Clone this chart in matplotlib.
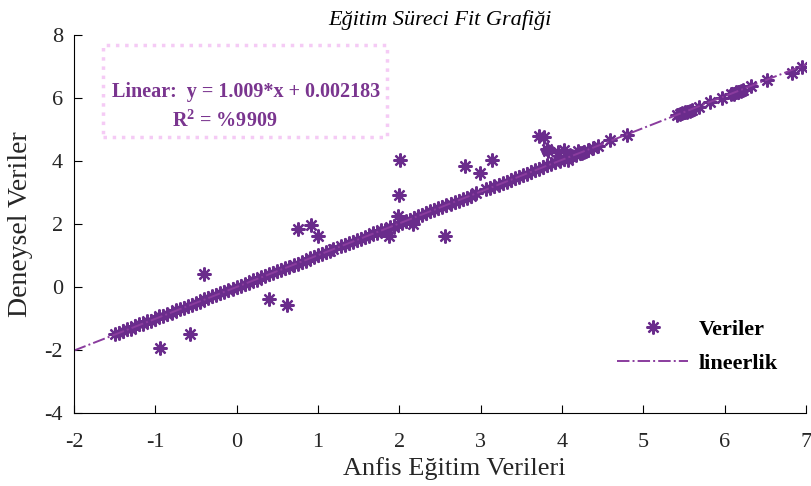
import numpy as np
import matplotlib
matplotlib.use('Agg')
import matplotlib.pyplot as plt
from matplotlib.patches import Rectangle

plt.rcParams['font.family'] = ['Liberation Serif', 'DejaVu Serif']
plt.rcParams['axes.unicode_minus'] = False
plt.rcParams['mathtext.fontset'] = 'custom'
plt.rcParams['mathtext.rm'] = 'Liberation Serif:bold'
plt.rcParams['mathtext.bf'] = 'Liberation Serif:bold'

# band of points along the fit line
x_band = [-1.50, -1.45, -1.40, -1.35, -1.30, -1.25, -1.20, -1.15, -1.10, -1.05,
          -1.00, -0.95, -0.90, -0.85, -0.80, -0.75, -0.70, -0.65, -0.60, -0.55,
          -0.50, -0.45, -0.40, -0.35, -0.30, -0.25, -0.20, -0.15, -0.10, -0.05,
          0.00, 0.05, 0.10, 0.15, 0.20, 0.25, 0.30, 0.35, 0.40, 0.45,
          0.50, 0.55, 0.60, 0.65, 0.70, 0.75, 0.80, 0.85, 0.90, 0.95,
          1.00, 1.05, 1.10, 1.15, 1.19,
          1.28, 1.33, 1.38, 1.43, 1.48, 1.53, 1.58, 1.63, 1.68, 1.73,
          1.78, 1.83, 1.88, 1.93, 1.98, 2.03, 2.08, 2.13, 2.18, 2.23,
          2.28, 2.33, 2.38, 2.43, 2.48, 2.53, 2.58, 2.63, 2.68, 2.73,
          2.78, 2.83, 2.88, 2.94,
          3.07, 3.12, 3.17, 3.22, 3.27, 3.32, 3.37, 3.42, 3.47, 3.52,
          3.57, 3.62, 3.67, 3.72, 3.77, 3.82, 3.87, 3.92, 3.97, 4.02,
          4.07, 4.12, 4.17, 4.22, 4.27, 4.32, 4.38, 4.44,
          3.81, 3.95, 4.02, 4.10, 4.20, 4.25, 4.08, 3.97,
          4.59, 4.80, 5.42, 5.45, 5.48, 5.51, 5.54, 5.57, 5.60, 5.68,
          5.82, 5.97, 6.08, 6.11, 6.14, 6.17, 6.20, 6.23, 6.33, 6.52,
          6.83, 6.95]
y_band = [-1.48, -1.47, -1.39, -1.33, -1.32, -1.24, -1.18, -1.17, -1.08, -1.07,
          -1.01, -0.93, -0.91, -0.84, -0.82, -0.74, -0.69, -0.67, -0.59, -0.56,
          -0.49, -0.46, -0.39, -0.36, -0.29, -0.26, -0.19, -0.16, -0.09, -0.06,
          0.01, 0.04, 0.11, 0.14, 0.21, 0.24, 0.31, 0.34, 0.41, 0.44,
          0.51, 0.54, 0.61, 0.64, 0.71, 0.74, 0.81, 0.84, 0.91, 0.94,
          1.01, 1.04, 1.11, 1.14, 1.20,
          1.29, 1.33, 1.40, 1.43, 1.50, 1.53, 1.60, 1.63, 1.70, 1.73,
          1.80, 1.82, 1.90, 1.92, 2.00, 2.04, 2.10, 2.13, 2.20, 2.24,
          2.30, 2.34, 2.40, 2.44, 2.50, 2.54, 2.60, 2.64, 2.70, 2.74,
          2.80, 2.84, 2.90, 2.97,
          3.10, 3.15, 3.20, 3.24, 3.30, 3.35, 3.40, 3.45, 3.50, 3.55,
          3.60, 3.65, 3.70, 3.76, 3.80, 3.86, 3.90, 3.96, 4.00, 4.06,
          4.10, 4.16, 4.20, 4.26, 4.30, 4.36, 4.42, 4.48,
          4.37, 4.30, 4.34, 4.20, 4.33, 4.25, 4.02, 4.05,
          4.66, 4.82, 5.47, 5.50, 5.52, 5.55, 5.57, 5.60, 5.63, 5.72,
          5.86, 6.00, 6.12, 6.14, 6.18, 6.20, 6.23, 6.25, 6.37, 6.56,
          6.79, 6.98]

# outliers
x_out = [-0.94, -0.57, -0.40, 0.40, 0.62, 0.76, 0.92, 1.00, 1.87, 1.99,
         2.00, 2.01, 2.17, 2.56, 2.81, 2.99, 3.14, 3.72, 3.78, 3.83]
y_out = [-1.93, -1.50, 0.42, -0.39, -0.58, 1.84, 1.97, 1.63, 1.63, 2.26,
         2.92, 4.02, 2.00, 1.61, 3.84, 3.61, 4.02, 4.78, 4.76, 4.32]

slope = 1.009
intercept = 0.002183
x_line = [-2, 7]

x_all = x_band + x_out
y_all = y_band + y_out

fig = plt.figure(figsize=(8.11, 4.86), dpi=100)
ax = fig.add_axes([0.0912, 0.150, 0.9026, 0.778])

pts, = ax.plot(x_all, y_all, linestyle='none', marker=(8, 2, 0), markersize=10,
               markeredgewidth=1.6, color='#6a2c8c', label='Veriler')
ln, = ax.plot(x_line, [slope * v + intercept for v in x_line], linestyle='-.',
              linewidth=1.4, color='#8a3c9e', label='lineerlik')

ax.set_xlim(-2, 7)
ax.set_ylim(-4, 8)
ax.set_xticks(range(-2, 8))
ax.set_yticks(range(-4, 9, 2))
ax.spines['top'].set_visible(False)
ax.spines['right'].set_visible(False)
ax.tick_params(direction='in', length=6, labelsize=16, labelcolor='#262626', pad=8)
ax.tick_params(axis='x', pad=14)

ax.set_title('Eğitim Süreci Fit Grafiği', fontsize=16, style='italic', pad=7)
ax.set_xlabel('Anfis Eğitim Verileri', fontsize=19, color='#262626')
ax.xaxis.set_label_coords(0.52, -0.115)
ax.set_ylabel('Deneysel Veriler', fontsize=20, color='#262626', labelpad=8)

# annotation box
ax.add_patch(Rectangle((0.0396, 0.730), 0.388, 0.244, transform=ax.transAxes,
                       fill=False, edgecolor='#f5cbf5', linestyle=':', linewidth=2.5))
ax.text(0.052, 0.849, 'Linear:  y = 1.009*x + 0.002183', transform=ax.transAxes,
        fontsize=14.5, fontweight='bold', color='#7a358f', va='center')
ax.text(0.134, 0.772, r'R$^{2}$ = %9909', transform=ax.transAxes,
        fontsize=14.5, fontweight='bold', color='#7a358f', va='center')

ax.legend(handles=[pts, ln], loc='upper left', bbox_to_anchor=(0.715, 0.30),
          frameon=False, handlelength=3.2, prop={'weight': 'bold', 'size': 16},
          labelspacing=0.6, handletextpad=0.45)

fig.savefig('out.png', dpi=100)
